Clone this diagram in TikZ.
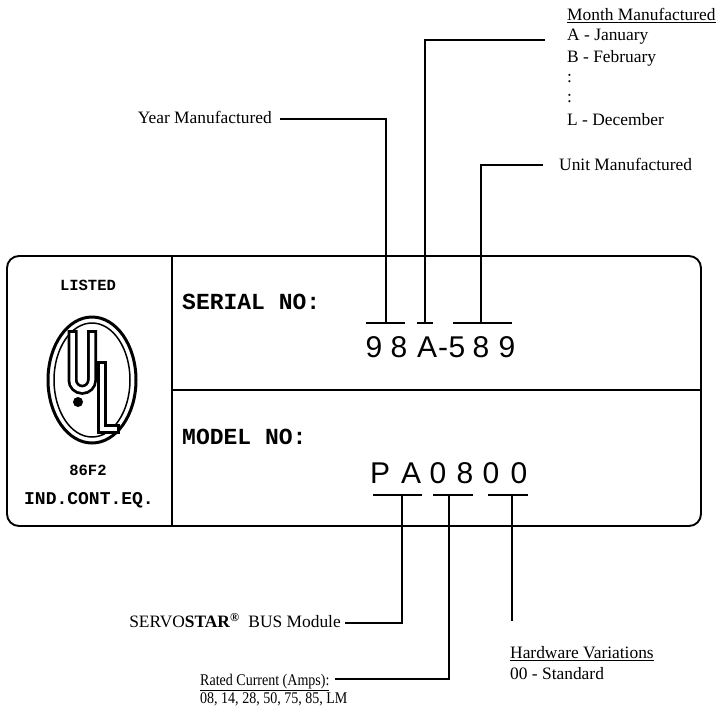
\documentclass[tikz,border=0pt]{standalone}
\usepackage{fontspec}
\setmainfont{Liberation Serif}
\newfontfamily\arialf{Liberation Sans}
\newfontfamily\courf{Liberation Mono}
\newfontfamily\condserif[FakeStretch=0.86]{Liberation Serif}
\begin{document}
\begin{tikzpicture}[x=1pt,y=-1pt,
  conn/.style={line width=1.4pt},
  platebox/.style={line width=1.9pt},
  lbl/.style={font=\fontsize{17.4}{21}\selectfont, inner sep=0pt},
  small/.style={font=\condserif\fontsize{16.3}{18}\selectfont, inner sep=0pt},
  big/.style={font=\arialf\fontsize{30}{30}\selectfont, inner sep=0pt, anchor=base},
  mono/.style={font=\courf\bfseries\fontsize{23}{23}\selectfont, inner sep=0pt, anchor=west},
  ultext/.style={font=\courf\bfseries\fontsize{15.5}{16}\selectfont, inner sep=0pt}]
\useasboundingbox (0,0) rectangle (719,709);
% plate
\node[platebox, draw, rounded corners=12pt, minimum width=694pt, minimum height=270pt, inner sep=0pt] (plate) at (354,391) {};
\coordinate (divx) at (172,390);
\draw[platebox] (plate.north -| divx) -- (plate.south -| divx);
\draw[platebox] (divx) -- (plate.east |- divx);
% UL column
\node[ultext] (listed) at (88,285) {LISTED};
\node[ultext] (file) at (88,470) {86F2};
\node[ultext, font=\courf\bfseries\fontsize{18}{18}\selectfont] (ind) at (89,500) {IND.CONT.EQ.};
\draw[line width=3pt] (92,380) ellipse [x radius=44, y radius=63];
\draw[line width=1.5pt] (92,380) ellipse [x radius=38, y radius=57];
\draw[line width=10pt] (72.5,330) -- (72.5,380) arc[start angle=180, end angle=0, radius=9.75] -- (92,330);
\draw[line width=4.5pt, white] (72.5,333) -- (72.5,380) arc[start angle=180, end angle=0, radius=9.75] -- (92,333);
\draw[line width=10pt] (102,361) -- (102,429) -- (120,429);
\draw[line width=4.5pt, white] (102,364) -- (102,429) -- (117,429);
\fill (78,402) circle [radius=5];
% serial
\node[mono] (serial) at (182,302) {SERIAL NO:};
\node[big] (s1) at (374,357) {9};
\node[big] (s2) at (399,357) {8};
\node[big] (s3) at (427,357) {A};
\node[big] (s4) at (443,357) {-};
\node[big] (s5) at (457,357) {5};
\node[big] (s6) at (481,357) {8};
\node[big] (s7) at (507,357) {9};
\draw[conn] (366,323) -- (405,323);
\draw[conn] (417,323) -- (433,323);
\draw[conn] (453,323) -- (512,323);
\coordinate (ty) at (386,323);
\coordinate (tm) at (425,323);
\coordinate (tu) at (481,323);
% model
\node[mono] (model) at (182,437) {MODEL NO:};
\node[big] (m1) at (380,483) {P};
\node[big] (m2) at (411,483) {A};
\node[big] (m3) at (438,483) {0};
\node[big] (m4) at (465,483) {8};
\node[big] (m5) at (491,483) {0};
\node[big] (m6) at (519,483) {0};
\draw[conn] (373,495) -- (422,495);
\draw[conn] (433,495) -- (473,495);
\draw[conn] (488,495) -- (528,495);
\coordinate (tp) at (402,495);
\coordinate (tr) at (449,495);
\coordinate (th) at (512,495);
% top labels
\node[lbl, anchor=base east] (year) at (272,123.5) {Year Manufactured};
\coordinate (yend) at (280,119);
\draw[conn] (yend) -| (ty);
\node[lbl, anchor=base west] (mo0) at (567,21) {\underline{Month Manufactured}};
\node[lbl, anchor=base west] (mo1) at (567,41) {A - January};
\node[lbl, anchor=base west] (mo2) at (567,63) {B - February};
\node[lbl, anchor=base west] (mo3) at (567,82) {:};
\node[lbl, anchor=base west] (mo4) at (567,102) {:};
\node[lbl, anchor=base west] (mo5) at (567,125) {L - December};
\coordinate (mend) at (545,40);
\draw[conn] (mend) -| (tm);
\node[lbl, anchor=base west] (unit) at (559,170.5) {Unit Manufactured};
\coordinate (uend) at (543,165);
\draw[conn] (uend) -| (tu);
% bottom labels
\node[lbl, anchor=base east] (servo) at (341,627.5) {SERVO\textbf{STAR}\textsuperscript{\textbf{\textregistered}}\ \ BUS Module};
\coordinate (pend) at (345,623);
\draw[conn] (pend) -| (tp);
\node[small, anchor=base west] (rated) at (200,685) {\underline{Rated Current (Amps):}};
\node[small, anchor=base west] (ratedv) at (200,703) {08, 14, 28, 50, 75, 85, LM};
\coordinate (rend) at ([xshift=5pt]rated.east |- 0,679);
\draw[conn] (rend) -| (tr);
\node[lbl, anchor=base west] (hw) at (510,658.5) {\underline{Hardware Variations}};
\node[lbl, anchor=base west] (hwv) at (510,679.5) {00 - Standard};
\coordinate (hend) at (512,621);
\draw[conn] (th) -- (hend);
\end{tikzpicture}
\end{document}
